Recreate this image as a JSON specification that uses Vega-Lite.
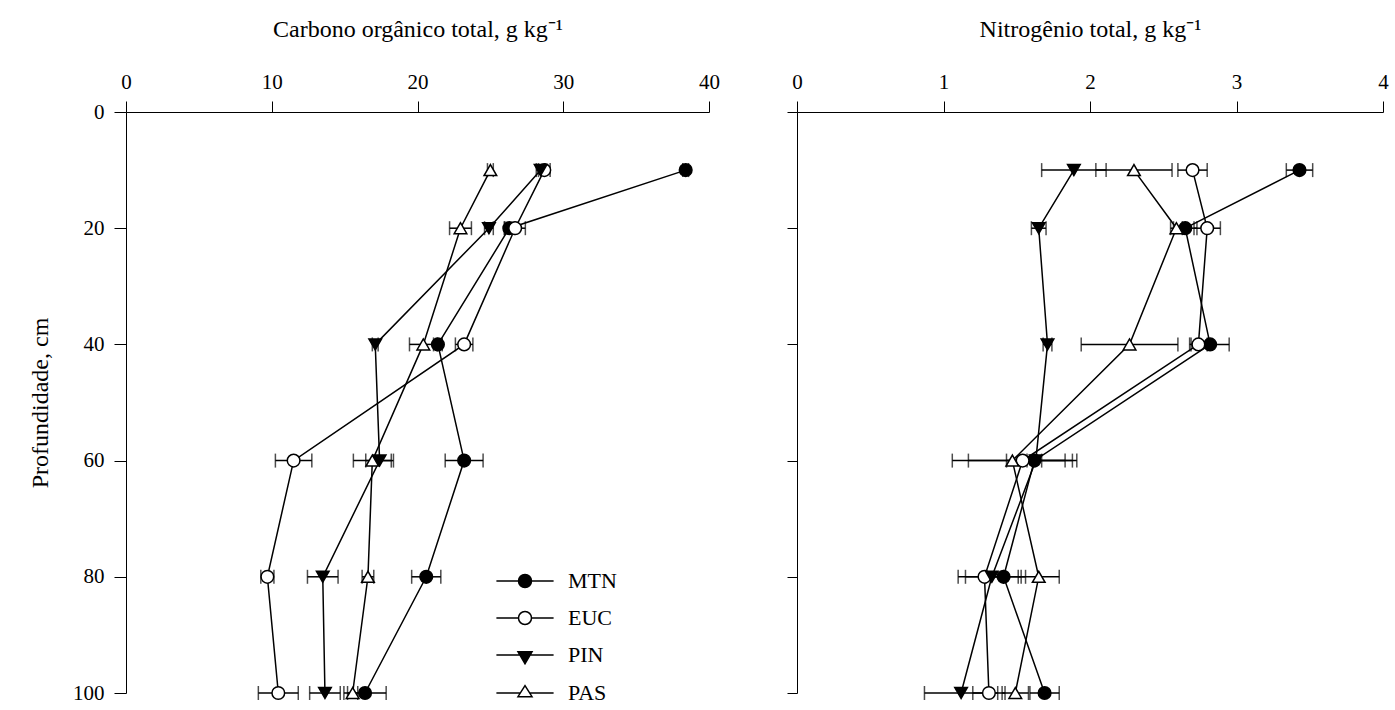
{
  "$schema": "https://vega.github.io/schema/vega-lite/v6.json",
  "background": "white",
  "padding": {"left": 28, "top": 17, "right": 5, "bottom": 5},
  "spacing": 88,
  "bounds": "flush",
  "config": {
    "font": "Liberation Serif",
    "view": {"stroke": null},
    "axis": {"grid": false, "labelFlush": false, "domainColor": "black", "tickColor": "black", "labelColor": "black", "titleColor": "black", "labelFont": "Liberation Serif", "titleFont": "Liberation Serif", "labelFontSize": 21, "titleFontSize": 24, "titleFontWeight": "normal", "domainWidth": 1, "tickWidth": 1}
  },
  "datasets": {
    "carbono": [
      {"t": "MTN", "d": 10, "v": 38.4, "lo": 38.2, "hi": 38.6},
      {"t": "MTN", "d": 20, "v": 26.3, "lo": 25.95, "hi": 26.65},
      {"t": "MTN", "d": 40, "v": 21.4, "lo": 21.1, "hi": 21.7},
      {"t": "MTN", "d": 60, "v": 23.2, "lo": 21.9, "hi": 24.5},
      {"t": "MTN", "d": 80, "v": 20.6, "lo": 19.6, "hi": 21.6},
      {"t": "MTN", "d": 100, "v": 16.4, "lo": 14.95, "hi": 17.85},
      {"t": "EUC", "d": 10, "v": 28.7, "lo": 28.3, "hi": 29.1},
      {"t": "EUC", "d": 20, "v": 26.7, "lo": 26.0, "hi": 27.4},
      {"t": "EUC", "d": 40, "v": 23.2, "lo": 22.6, "hi": 23.8},
      {"t": "EUC", "d": 60, "v": 11.5, "lo": 10.25, "hi": 12.75},
      {"t": "EUC", "d": 80, "v": 9.7, "lo": 9.25, "hi": 10.15},
      {"t": "EUC", "d": 100, "v": 10.45, "lo": 9.08, "hi": 11.82},
      {"t": "PIN", "d": 10, "v": 28.45, "lo": 28.15, "hi": 28.75},
      {"t": "PIN", "d": 20, "v": 24.9, "lo": 24.6, "hi": 25.2},
      {"t": "PIN", "d": 40, "v": 17.1, "lo": 16.9, "hi": 17.3},
      {"t": "PIN", "d": 60, "v": 17.4, "lo": 16.45, "hi": 18.35},
      {"t": "PIN", "d": 80, "v": 13.5, "lo": 12.45, "hi": 14.55},
      {"t": "PIN", "d": 100, "v": 13.65, "lo": 12.6, "hi": 14.7},
      {"t": "PAS", "d": 10, "v": 25.0, "lo": 24.8, "hi": 25.2},
      {"t": "PAS", "d": 20, "v": 22.95, "lo": 22.2, "hi": 23.7},
      {"t": "PAS", "d": 40, "v": 20.4, "lo": 19.45, "hi": 21.35},
      {"t": "PAS", "d": 60, "v": 16.9, "lo": 15.6, "hi": 18.2},
      {"t": "PAS", "d": 80, "v": 16.6, "lo": 16.2, "hi": 17.0},
      {"t": "PAS", "d": 100, "v": 15.55, "lo": 15.2, "hi": 15.9}
    ],
    "nitrogenio": [
      {"t": "MTN", "d": 10, "v": 3.43, "lo": 3.34, "hi": 3.52},
      {"t": "MTN", "d": 20, "v": 2.65, "lo": 2.57, "hi": 2.73},
      {"t": "MTN", "d": 40, "v": 2.82, "lo": 2.69, "hi": 2.95},
      {"t": "MTN", "d": 60, "v": 1.62, "lo": 1.57, "hi": 1.67},
      {"t": "MTN", "d": 80, "v": 1.41, "lo": 1.29, "hi": 1.53},
      {"t": "MTN", "d": 100, "v": 1.69, "lo": 1.59, "hi": 1.79},
      {"t": "EUC", "d": 10, "v": 2.70, "lo": 2.60, "hi": 2.80},
      {"t": "EUC", "d": 20, "v": 2.80, "lo": 2.71, "hi": 2.89},
      {"t": "EUC", "d": 40, "v": 2.74, "lo": 2.68, "hi": 2.80},
      {"t": "EUC", "d": 60, "v": 1.54, "lo": 1.17, "hi": 1.91},
      {"t": "EUC", "d": 80, "v": 1.28, "lo": 1.15, "hi": 1.41},
      {"t": "EUC", "d": 100, "v": 1.31, "lo": 1.20, "hi": 1.42},
      {"t": "PIN", "d": 10, "v": 1.89, "lo": 1.67, "hi": 2.11},
      {"t": "PIN", "d": 20, "v": 1.65, "lo": 1.60, "hi": 1.70},
      {"t": "PIN", "d": 40, "v": 1.71, "lo": 1.68, "hi": 1.74},
      {"t": "PIN", "d": 60, "v": 1.63, "lo": 1.43, "hi": 1.83},
      {"t": "PIN", "d": 80, "v": 1.33, "lo": 1.10, "hi": 1.56},
      {"t": "PIN", "d": 100, "v": 1.12, "lo": 0.87, "hi": 1.37},
      {"t": "PAS", "d": 10, "v": 2.30, "lo": 2.04, "hi": 2.56},
      {"t": "PAS", "d": 20, "v": 2.59, "lo": 2.55, "hi": 2.63},
      {"t": "PAS", "d": 40, "v": 2.27, "lo": 1.94, "hi": 2.60},
      {"t": "PAS", "d": 60, "v": 1.47, "lo": 1.06, "hi": 1.88},
      {"t": "PAS", "d": 80, "v": 1.65, "lo": 1.51, "hi": 1.79},
      {"t": "PAS", "d": 100, "v": 1.49, "lo": 1.40, "hi": 1.58}
    ]
  },
  "hconcat": [
    {
      "width": 583,
      "height": 581,
      "data": {"name": "carbono"},
      "encoding": {
        "y": {"field": "d", "type": "quantitative", "scale": {"domain": [0, 100], "reverse": true, "nice": false}, "axis": {"orient": "left", "values": [0, 20, 40, 60, 80, 100], "tickSize": 12, "labelPadding": 10, "title": "Profundidade, cm", "titlePadding": 20}}
      },
      "layer": [
        {"mark": {"type": "rule", "color": "black", "strokeWidth": 1.5},
         "encoding": {"x": {"field": "lo", "type": "quantitative", "title": "Carbono orgânico total, g kg⁻¹", "scale": {"domain": [0, 40], "nice": false}, "axis": {"orient": "top", "values": [0, 10, 20, 30, 40], "tickSize": 11, "labelPadding": 9, "titlePadding": 30}}, "x2": {"field": "hi"}}},
        {"mark": {"type": "tick", "orient": "vertical", "size": 14, "thickness": 1.5, "color": "black"},
         "encoding": {"x": {"field": "lo", "type": "quantitative", "title": "Carbono orgânico total, g kg⁻¹"}}},
        {"mark": {"type": "tick", "orient": "vertical", "size": 14, "thickness": 1.5, "color": "black"},
         "encoding": {"x": {"field": "hi", "type": "quantitative", "title": "Carbono orgânico total, g kg⁻¹"}}},
        {"mark": {"type": "line", "color": "black", "strokeWidth": 1.5},
         "encoding": {"x": {"field": "v", "type": "quantitative", "title": "Carbono orgânico total, g kg⁻¹"}, "detail": {"field": "t"}, "order": {"field": "d", "type": "quantitative"}}},
        {"mark": {"type": "point", "filled": true, "stroke": "black", "strokeWidth": 1.5, "size": 160, "opacity": 1},
         "encoding": {
           "x": {"field": "v", "type": "quantitative", "title": "Carbono orgânico total, g kg⁻¹"},
           "shape": {"field": "t", "type": "nominal", "scale": {"domain": ["MTN", "EUC", "PIN", "PAS"], "range": ["circle", "circle", "triangle-down", "triangle-up"]}, "legend": null},
           "fill": {"field": "t", "type": "nominal", "scale": {"domain": ["MTN", "EUC", "PIN", "PAS"], "range": ["black", "white", "black", "white"]}, "legend": null}
         }},
        {"mark": {"type": "point", "filled": true, "stroke": "black", "strokeWidth": 1.5, "opacity": 0},
         "encoding": {
           "shape": {"field": "t", "type": "nominal",
             "scale": {"domain": ["MTN", "EUC", "PIN", "PAS"], "range": [
               "M-4.4,0L-1,0M1,0L4.4,0M-1,0A1,1,0,1,1,1,0A1,1,0,1,1,-1,0Z",
               "M-4.4,0L-1,0M1,0L4.4,0M-1,0A1,1,0,1,1,1,0A1,1,0,1,1,-1,0Z",
               "M-4.4,0L-0.8,0M0.8,0L4.4,0M-1.08,-0.5L1.08,-0.5L0,1.35Z",
               "M-4.4,0L-0.72,0M0.72,0L4.4,0M-1.08,0.56L1.08,0.56L0,-1.13Z"]},
             "legend": {"title": null, "orient": "none", "legendX": 388, "legendY": 458, "symbolSize": 169, "symbolStrokeWidth": 1.5, "symbolStrokeColor": "black", "labelFont": "Liberation Serif", "labelFontSize": 22, "labelColor": "black", "labelOffset": 32, "rowPadding": 15, "padding": 0,
               "encode": {"symbols": {"update": {"opacity": {"value": 1}, "stroke": {"value": "black"}, "strokeWidth": {"value": 1.5}}}}}},
           "fill": {"field": "t", "type": "nominal", "scale": {"domain": ["MTN", "EUC", "PIN", "PAS"], "range": ["black", "white", "black", "white"]},
             "legend": {"title": null, "orient": "none", "legendX": 388, "legendY": 458, "symbolSize": 169, "symbolStrokeWidth": 1.5, "symbolStrokeColor": "black", "labelFont": "Liberation Serif", "labelFontSize": 22, "labelColor": "black", "labelOffset": 32, "rowPadding": 15, "padding": 0,
               "encode": {"symbols": {"update": {"opacity": {"value": 1}, "stroke": {"value": "black"}, "strokeWidth": {"value": 1.5}}}}}}
         }}
      ],
      "resolve": {"scale": {"shape": "independent", "fill": "independent"}, "legend": {"shape": "independent", "fill": "independent"}}
    },
    {
      "width": 586,
      "height": 581,
      "data": {"name": "nitrogenio"},
      "encoding": {
        "y": {"field": "d", "type": "quantitative", "scale": {"domain": [0, 100], "reverse": true, "nice": false}, "axis": {"orient": "left", "values": [0, 20, 40, 60, 80, 100], "tickSize": 10, "labels": false, "title": null}}
      },
      "layer": [
        {"mark": {"type": "rule", "color": "black", "strokeWidth": 1.5},
         "encoding": {"x": {"field": "lo", "type": "quantitative", "title": "Nitrogênio total, g kg⁻¹", "scale": {"domain": [0, 4], "nice": false}, "axis": {"orient": "top", "values": [0, 1, 2, 3, 4], "format": "d", "tickSize": 11, "labelPadding": 9, "titlePadding": 30}}, "x2": {"field": "hi"}}},
        {"mark": {"type": "tick", "orient": "vertical", "size": 14, "thickness": 1.5, "color": "black"},
         "encoding": {"x": {"field": "lo", "type": "quantitative", "title": "Nitrogênio total, g kg⁻¹"}}},
        {"mark": {"type": "tick", "orient": "vertical", "size": 14, "thickness": 1.5, "color": "black"},
         "encoding": {"x": {"field": "hi", "type": "quantitative", "title": "Nitrogênio total, g kg⁻¹"}}},
        {"mark": {"type": "line", "color": "black", "strokeWidth": 1.5},
         "encoding": {"x": {"field": "v", "type": "quantitative", "title": "Nitrogênio total, g kg⁻¹"}, "detail": {"field": "t"}, "order": {"field": "d", "type": "quantitative"}}},
        {"mark": {"type": "point", "filled": true, "stroke": "black", "strokeWidth": 1.5, "size": 160, "opacity": 1},
         "encoding": {
           "x": {"field": "v", "type": "quantitative", "title": "Nitrogênio total, g kg⁻¹"},
           "shape": {"field": "t", "type": "nominal", "scale": {"domain": ["MTN", "EUC", "PIN", "PAS"], "range": ["circle", "circle", "triangle-down", "triangle-up"]}, "legend": null},
           "fill": {"field": "t", "type": "nominal", "scale": {"domain": ["MTN", "EUC", "PIN", "PAS"], "range": ["black", "white", "black", "white"]}, "legend": null}
         }}
      ]
    }
  ]
}
